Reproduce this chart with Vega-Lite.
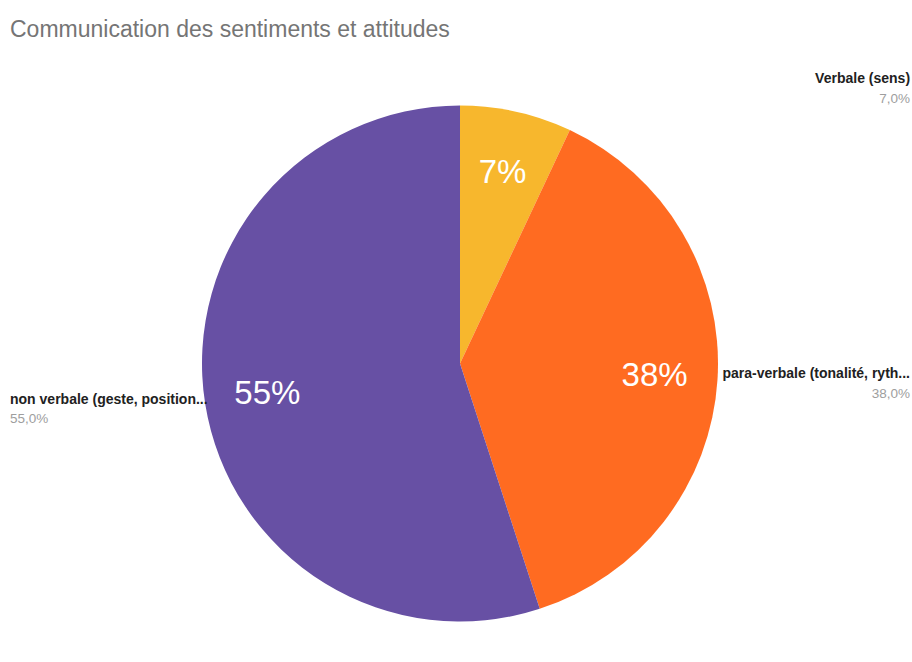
{
  "$schema": "https://vega.github.io/schema/vega-lite/v6.json",
  "width": 904,
  "height": 597,
  "autosize": {"type": "none"},
  "padding": {"left": 8, "top": 65, "right": 0, "bottom": 0},
  "background": "white",
  "title": {
    "text": "Communication des sentiments et attitudes",
    "anchor": "start",
    "frame": "group",
    "offset": 23,
    "dx": 2,
    "fontSize": 23,
    "font": "Liberation Sans",
    "fontWeight": "normal",
    "color": "#757575"
  },
  "config": {"view": {"stroke": null}},
  "data": {
    "values": [
      {"categorie": "Verbale (sens)", "valeur": 7, "rang": 1, "etiquette": "7%", "part": "7,0%"},
      {"categorie": "para-verbale (tonalité, ryth...", "valeur": 38, "rang": 2, "etiquette": "38%", "part": "38,0%"},
      {"categorie": "non verbale (geste, position...", "valeur": 55, "rang": 3, "etiquette": "55%", "part": "55,0%"}
    ]
  },
  "encoding": {
    "theta": {"field": "valeur", "type": "quantitative", "stack": true},
    "order": {"field": "rang", "type": "quantitative"},
    "detail": {"field": "categorie", "type": "nominal"}
  },
  "layer": [
    {
      "mark": {"type": "arc", "outerRadius": 258},
      "encoding": {
        "color": {
          "field": "categorie",
          "type": "nominal",
          "scale": {
            "domain": ["Verbale (sens)", "para-verbale (tonalité, ryth...", "non verbale (geste, position..."],
            "range": ["#F7B72D", "#FF6B21", "#6750A4"]
          },
          "legend": null
        }
      }
    },
    {
      "mark": {"type": "text", "radius": 195, "fontSize": 33, "font": "Liberation Sans", "color": "white", "baseline": "middle", "align": "center"},
      "encoding": {"text": {"field": "etiquette", "type": "nominal"}}
    },
    {
      "mark": {"type": "text", "radius": 245, "align": "right", "baseline": "alphabetic", "dx": 396.6, "dy": -41.4, "fontSize": 14, "fontWeight": "bold", "font": "Liberation Sans", "color": "#212121"},
      "encoding": {"text": {"condition": {"test": "datum.rang == 1", "field": "categorie", "type": "nominal"}, "value": ""}}
    },
    {
      "mark": {"type": "text", "radius": 245, "align": "right", "baseline": "alphabetic", "dx": 396.6, "dy": -21.4, "fontSize": 13.5, "font": "Liberation Sans", "color": "#9E9E9E"},
      "encoding": {"text": {"condition": {"test": "datum.rang == 1", "field": "part", "type": "nominal"}, "value": ""}}
    },
    {
      "mark": {"type": "text", "radius": 245, "align": "right", "baseline": "alphabetic", "dx": 205.5, "dy": -0.9, "fontSize": 14, "fontWeight": "bold", "font": "Liberation Sans", "color": "#212121"},
      "encoding": {"text": {"condition": {"test": "datum.rang == 2", "field": "categorie", "type": "nominal"}, "value": ""}}
    },
    {
      "mark": {"type": "text", "radius": 245, "align": "right", "baseline": "alphabetic", "dx": 205.5, "dy": 19.1, "fontSize": 13.5, "font": "Liberation Sans", "color": "#9E9E9E"},
      "encoding": {"text": {"condition": {"test": "datum.rang == 2", "field": "part", "type": "nominal"}, "value": ""}}
    },
    {
      "mark": {"type": "text", "radius": 245, "align": "left", "baseline": "alphabetic", "dx": -208, "dy": 2.2, "fontSize": 14, "fontWeight": "bold", "font": "Liberation Sans", "color": "#212121"},
      "encoding": {"text": {"condition": {"test": "datum.rang == 3", "field": "categorie", "type": "nominal"}, "value": ""}}
    },
    {
      "mark": {"type": "text", "radius": 245, "align": "left", "baseline": "alphabetic", "dx": -208, "dy": 21.2, "fontSize": 13.5, "font": "Liberation Sans", "color": "#9E9E9E"},
      "encoding": {"text": {"condition": {"test": "datum.rang == 3", "field": "part", "type": "nominal"}, "value": ""}}
    }
  ]
}
